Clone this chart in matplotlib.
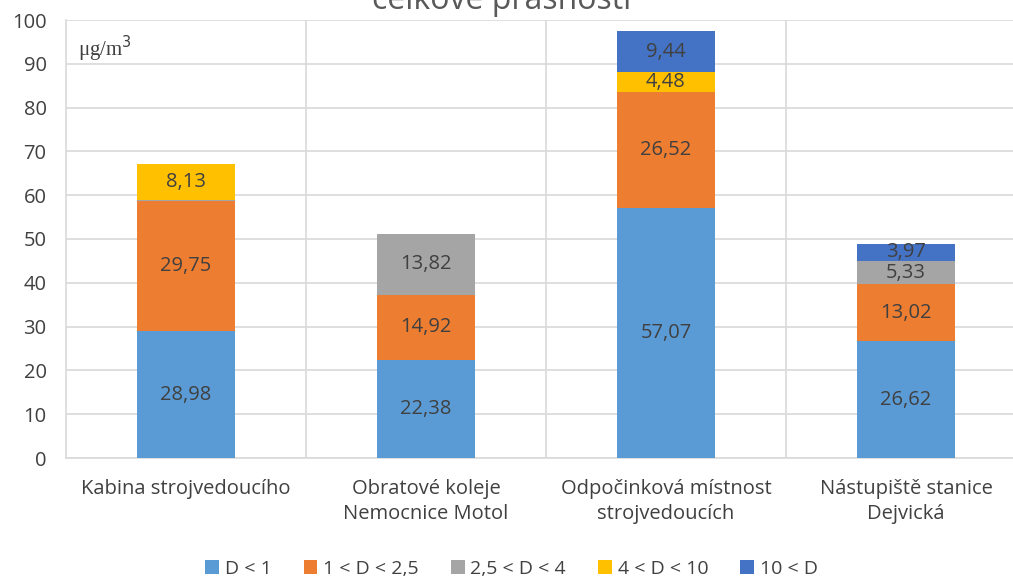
import numpy as np
import matplotlib.pyplot as plt

categories = ['Kabina strojvedoucího', 'Obratové koleje\nNemocnice Motol',
              'Odpočinková místnost\nstrojvedoucích', 'Nástupiště stanice\nDejvická']
series = ['D < 1', '1 < D < 2,5', '2,5 < D < 4', '4 < D < 10', '10 < D']
d_lt1 = [28.98, 22.38, 57.07, 26.62]
d_1_25 = [29.75, 14.92, 26.52, 13.02]
d_25_4 = [0.25, 13.82, 0.0, 5.33]
d_4_10 = [8.13, 0.0, 4.48, 0.0]
d_gt10 = [0.0, 0.0, 9.44, 3.97]
colors = ['#5B9BD5', '#ED7D31', '#A5A5A5', '#FFC000', '#4472C4']

plt.rcParams['font.family'] = ['Open Sans', 'DejaVu Sans']

fig = plt.figure(figsize=(10.13, 5.79), dpi=100)
ax = fig.add_axes([66 / 1013, 121 / 579, 960 / 1013, 438 / 579])

x = np.arange(len(categories))
bottom = np.zeros(len(categories))
for name, vals, c in zip(series, [d_lt1, d_1_25, d_25_4, d_4_10, d_gt10], colors):
    vals = np.array(vals)
    ax.bar(x, vals, 0.41, bottom=bottom, color=c, label=name, zorder=3)
    # labels only on segments big enough to carry them
    for xi, b, v in zip(x, bottom, vals):
        if v >= 1:
            ax.text(xi, b + v / 2, f'{v:.2f}'.replace('.', ','), ha='center', va='center',
                    fontsize=14.5, color='#404040', zorder=4)
    bottom += vals

ax.set_xlim(-0.5, len(categories) - 0.5)
ax.set_ylim(0, 100)
ax.set_yticks(range(0, 101, 10))
ax.set_xticks(x)
ax.set_xticklabels(categories, fontsize=14.5, color='#404040', linespacing=1.35)
ax.tick_params(axis='y', labelsize=14.5, labelcolor='#404040', length=0, pad=14)
ax.tick_params(axis='x', length=0, pad=15)
ax.yaxis.grid(True, color='#D9D9D9', linewidth=1.2, zorder=0)
for sep in np.arange(0.5, len(categories) - 0.5):
    ax.axvline(sep, color='#D9D9D9', linewidth=1.2, zorder=0)
for side in ['top', 'right']:
    ax.spines[side].set_visible(False)
for side in ['left', 'bottom']:
    ax.spines[side].set_color('#D9D9D9')
    ax.spines[side].set_linewidth(1.2)

ax.text(0.012, 0.968, r'μg/m$^3$', transform=ax.transAxes, family='Liberation Serif',
        fontsize=15, color='#404040', va='top', ha='left')

fig.text(0.495, 1 - 9 / 579, 'celkové prašnosti', ha='center', va='baseline',
         fontsize=23, color='#595959')

fig.legend(loc='center', bbox_to_anchor=(0.505, 0.018), ncol=5, frameon=False, fontsize=14,
           handlelength=0.7, handleheight=0.7, handletextpad=0.3, columnspacing=1.65,
           labelcolor='#404040')

fig.savefig('out.png', dpi=100)
